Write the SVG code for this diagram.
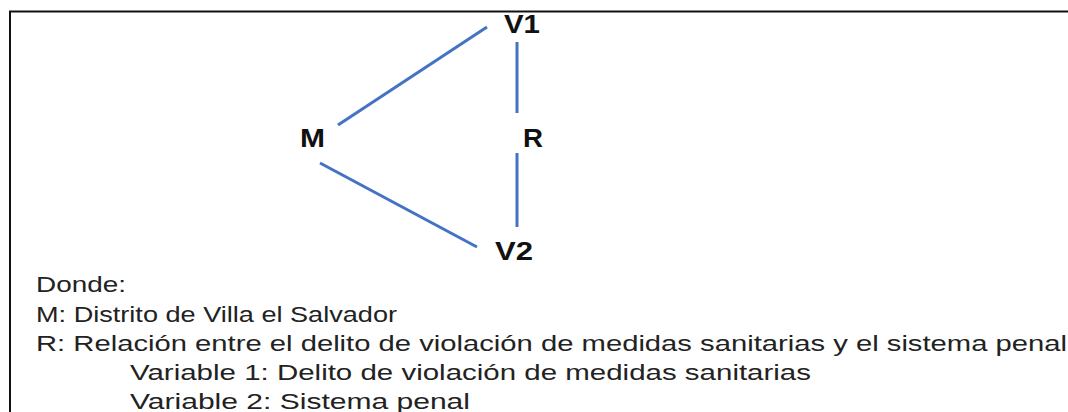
<svg xmlns="http://www.w3.org/2000/svg" width="1068" height="412" viewBox="0 0 1068 412">
<style>
.lbl{font-family:"Liberation Sans",Arial,sans-serif;font-weight:bold;font-size:25px;fill:#111}
.txt{font-family:"Liberation Sans",Arial,sans-serif;font-size:22.5px;fill:#222}
.edge{stroke:#4472C4;stroke-width:3;fill:none}
</style>
<rect width="1068" height="412" fill="#fff"/>
<g id="frame" stroke="#111" stroke-width="2" fill="none">
<path d="M10 412 V11.5 H1068"/>
</g>
<g id="connectors">
<line class="edge" x1="338" y1="125" x2="487" y2="27"/>
<line class="edge" x1="320" y1="163" x2="477" y2="247"/>
<line class="edge" x1="517" y1="42" x2="517" y2="113"/>
<line class="edge" x1="517" y1="153" x2="517" y2="227"/>
</g>
<g id="node-V1"><text class="lbl" x="504" y="33" textLength="36" lengthAdjust="spacingAndGlyphs">V1</text></g>
<g id="node-M"><text class="lbl" x="300" y="147" textLength="25" lengthAdjust="spacingAndGlyphs">M</text></g>
<g id="node-R"><text class="lbl" x="523" y="147" textLength="20" lengthAdjust="spacingAndGlyphs">R</text></g>
<g id="node-V2"><text class="lbl" x="495" y="260" textLength="38" lengthAdjust="spacingAndGlyphs">V2</text></g>
<g id="legend">
<text class="txt" x="36" y="292" textLength="90" lengthAdjust="spacingAndGlyphs">Donde:</text>
<text class="txt" x="36" y="322" textLength="361" lengthAdjust="spacingAndGlyphs">M: Distrito de Villa el Salvador</text>
<text class="txt" x="36" y="351" textLength="1031" lengthAdjust="spacingAndGlyphs">R: Relación entre el delito de violación de medidas sanitarias y el sistema penal</text>
<text class="txt" x="130" y="380" textLength="681" lengthAdjust="spacingAndGlyphs">Variable 1: Delito de violación de medidas sanitarias</text>
<text class="txt" x="130" y="409" textLength="340" lengthAdjust="spacingAndGlyphs">Variable 2: Sistema penal</text>
</g>
</svg>
